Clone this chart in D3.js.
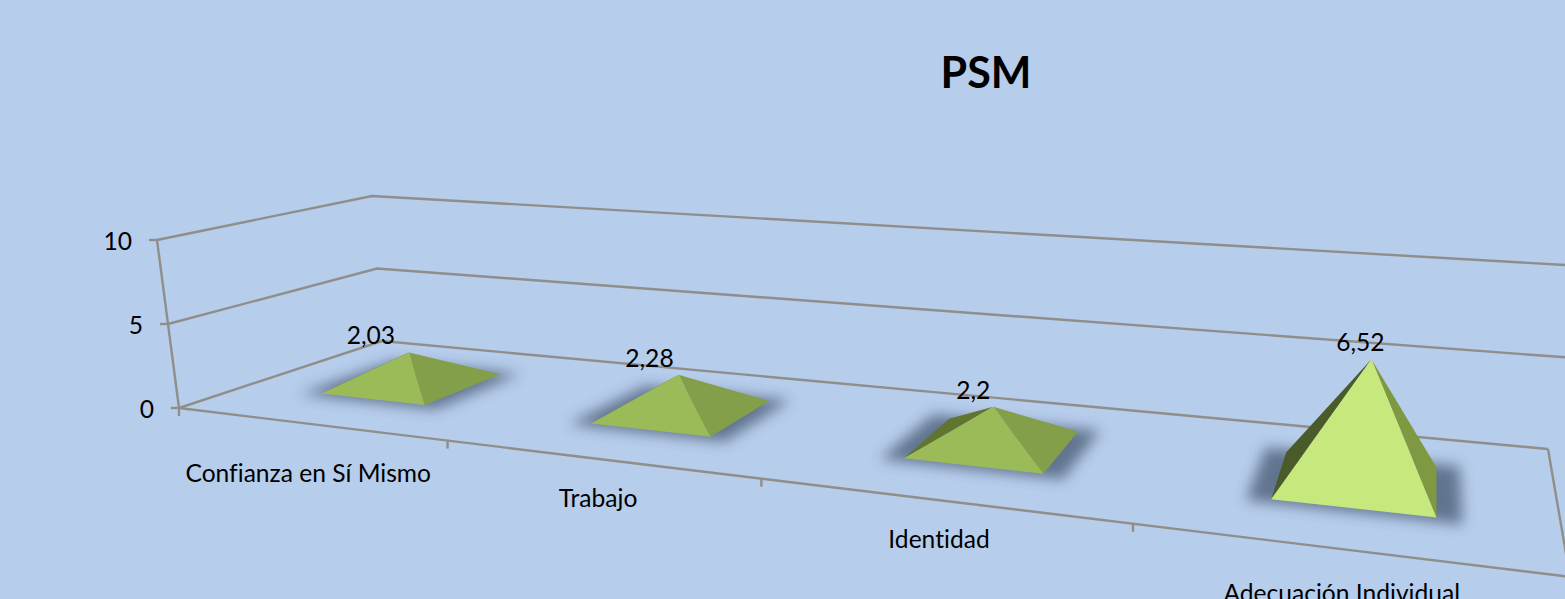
<!DOCTYPE html>
<html>
<head>
<meta charset="utf-8">
<style>
  html, body { margin: 0; padding: 0; background: #b7cdec; overflow: hidden; }
  svg { display: block; font-family: Lato, "Open Sans", sans-serif; font-variant-ligatures: none; }
</style>
<script src="https://d3js.org/d3.v7.min.js"></script>
</head>
<body>
<div id="chart"></div>
<script>
const categories = ["Confianza en Sí Mismo", "Trabajo", "Identidad", "Adecuación Individual"];
const values = [2.03, 2.28, 2.2, 6.52];
const valueLabels = ["2,03", "2,28", "2,2", "6,52"];
const yTicks = [0, 5, 10];

const width = 1565;
const height = 599;

// the chart box seen in perspective: floor and top plane, order FL, FR, BR, BL
const floorQuad = [[179, 408], [1580, 578], [1548, 449], [382, 341]];
const topQuad = [[157, 240], [1605, 358], [1600, 267], [372, 196]];
// the right floor edge leaves the picture a bit steeper than the box says
const rightEdgeEnd = [1570, 577];
// evens out the category spacing along the front edge
const skew = 1.045;

// square -> quad mapping
function homography(q) {
    const [[x0, y0], [x1, y1], [x2, y2], [x3, y3]] = q;
    const dx1 = x1 - x2, dx2 = x3 - x2, sx = x0 - x1 + x2 - x3;
    const dy1 = y1 - y2, dy2 = y3 - y2, sy = y0 - y1 + y2 - y3;
    const den = dx1 * dy2 - dx2 * dy1;
    const g = (sx * dy2 - dx2 * sy) / den;
    const h = (dx1 * sy - sx * dy1) / den;
    const a = x1 - x0 + g * x1, b = x3 - x0 + h * x3;
    const d = y1 - y0 + g * y1, e = y3 - y0 + h * y3;
    return (u, v) => {
        const w = g * u + h * v + 1;
        return [(a * u + b * v + x0) / w, (d * u + e * v + y0) / w];
    };
}

const floorAt = homography(floorQuad);
const topAt = homography(topQuad);

const x = d3.scaleBand().domain(categories).range([0, 1]);
const y = d3.scaleLinear().domain([0, 10]).range([0, 1]);
const depth = d3.scaleLinear().domain([0, 1]).range([0.3, 0.72]); // where the pyramids sit front to back

function project(u, v, value) {
    const s = skew * u / (1 + (skew - 1) * u);
    const a = floorAt(s, v);
    const b = topAt(s, v);
    const t = y(value);
    return [a[0] + (b[0] - a[0]) * t, a[1] + (b[1] - a[1]) * t];
}

const svg = d3.select("#chart").append("svg")
    .attr("width", width)
    .attr("height", height)
    .attr("viewBox", [0, 0, width, height]);

svg.append("rect").attr("width", width).attr("height", height).attr("fill", "#b7cdec");

const blur = svg.append("defs").append("filter")
    .attr("id", "shadow")
    .attr("x", "-30%").attr("y", "-60%").attr("width", "160%").attr("height", "220%");
blur.append("feGaussianBlur").attr("stdDeviation", 7);

svg.append("text")
    .attr("x", 986).attr("y", 88)
    .attr("text-anchor", "middle")
    .attr("font-size", 43)
    .attr("font-weight", 700)
    .attr("fill", "#000")
    .text("PSM");

// walls and floor
const line = d3.line();
const grid = svg.append("g").attr("fill", "none").attr("stroke", "#8f8e8a").attr("stroke-width", 2.4);

grid.selectAll("path.level")
    .data(yTicks)
    .join("path")
    .attr("class", "level")
    .attr("d", t => line([project(0, 0, t), project(0, 1, t), project(1, 1, t)]));

grid.append("path").attr("d", line([project(0, 0, 0), project(0, 0, 10)]));
grid.append("path").attr("d", line([project(0, 0, 0), project(1, 0, 0)]));
grid.append("path").attr("d", line([project(1, 1, 0), rightEdgeEnd]));

// value ticks
grid.selectAll("path.ytick")
    .data(yTicks)
    .join("path")
    .attr("class", "ytick")
    .attr("d", t => {
        const p = project(0, 0, t);
        return line([[p[0] - 8, p[1]], p]);
    });

svg.append("g").selectAll("text")
    .data(yTicks)
    .join("text")
    .attr("x", t => project(0, 0, t)[0] - 25)
    .attr("y", t => project(0, 0, t)[1] + 1)
    .attr("dy", "0.36em")
    .attr("text-anchor", "end")
    .attr("font-size", 24.6)
    .attr("fill", "#000")
    .text(t => t);

// category ticks along the front edge
grid.selectAll("path.xtick")
    .data(categories)
    .join("path")
    .attr("class", "xtick")
    .attr("d", c => {
        const p = project(x(c), 0, 0);
        return line([p, [p[0], p[1] + 8]]);
    });

const labelDrop = [49, 39, 39, 44];
const labelNudge = [0, 0, 0, -4];
svg.append("g").selectAll("text")
    .data(categories)
    .join("text")
    .attr("x", (c, i) => project(x(c) + x.bandwidth() / 2, 0, 0)[0] + labelNudge[i])
    .attr("y", (c, i) => project(x(c) + x.bandwidth() / 2, 0, 0)[1] + labelDrop[i])
    .attr("dy", "0.36em")
    .attr("text-anchor", "middle")
    .attr("font-size", 24.6)
    .attr("fill", "#000")
    .text(c => c);

// pyramids
const barShare = 0.4; // 150% gap
const apexLean = 0.003; // tips sit a little right of the base centre
const labelShift = d3.scaleLinear().domain([0.125, 0.875]).range([-38, -11]);

const rows = categories.map((c, i) => {
    const mid = x(c) + x.bandwidth() / 2;
    const half = x.bandwidth() * barShare / 2;
    const out = half * 1.3; // shadow reaches past the base
    return {
        value: values[i],
        label: valueLabels[i],
        mid,
        fl: project(mid - half, depth(0), 0),
        fr: project(mid + half, depth(0), 0),
        br: project(mid + half, depth(1), 0),
        bl: project(mid - half, depth(1), 0),
        shade: [
            project(mid - out, depth(-0.07), 0),
            project(mid + out, depth(-0.07), 0),
            project(mid + out, depth(1.07), 0),
            project(mid - out, depth(1.07), 0)
        ],
        apex: project(mid + apexLean, depth(0.46), values[i])
    };
});

const poly = pts => line(pts) + "Z";
const big = d => d.value > 5;

const bars = svg.append("g").selectAll("g")
    .data(rows)
    .join("g");

bars.append("path")
    .attr("d", d => poly(d.shade))
    .attr("fill", "#34465f")
    .attr("opacity", 0.66)
    .attr("filter", "url(#shadow)");

bars.append("path")
    .attr("d", d => poly([d.bl, d.fl, d.apex]))
    .attr("fill", d => big(d) ? "#4a5a28" : "#5f7530");

bars.append("path")
    .attr("d", d => poly([d.br, d.fr, d.apex]))
    .attr("fill", d => big(d) ? "#7f9842" : "#839f4a");

bars.append("path")
    .attr("d", d => poly([d.fl, d.fr, d.apex]))
    .attr("fill", d => big(d) ? "#c6e87c" : "#9bbb59");

bars.append("text")
    .attr("x", d => d.apex[0] + labelShift(d.mid))
    .attr("y", d => d.apex[1] - 17)
    .attr("dy", "0.36em")
    .attr("text-anchor", "middle")
    .attr("font-size", 24.6)
    .attr("fill", "#000")
    .text(d => d.label);
</script>
</body>
</html>
